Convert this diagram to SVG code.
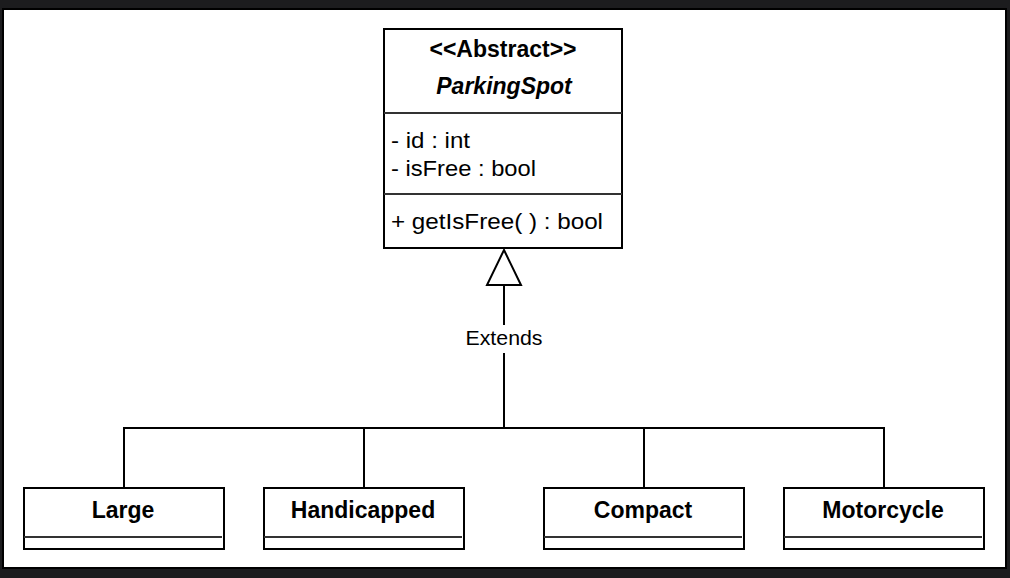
<svg xmlns="http://www.w3.org/2000/svg" width="1010" height="578" viewBox="0 0 1010 578">
<style>
.box{fill:#fff;stroke:#000;stroke-width:2}
.div{stroke:#333;stroke-width:2}
.ln{stroke:#000;stroke-width:2;fill:none}
text{font-family:"Liberation Sans",Arial,Helvetica,sans-serif;fill:#000}
.b{font-weight:bold;font-size:23px;text-anchor:middle}
.r{font-size:22px}
</style>
<rect x="0" y="0" width="1010" height="578" fill="#1c1c1e"/>
<rect x="3" y="9" width="1003" height="559" fill="#fff" stroke="#000" stroke-width="2"/>
<g id="connectors">
<polyline class="ln" points="124,488 124,428 884,428 884,488"/>
<line class="ln" x1="364" y1="428" x2="364" y2="488"/>
<line class="ln" x1="644" y1="428" x2="644" y2="488"/>
<line class="ln" x1="504" y1="428" x2="504" y2="353"/>
<line class="ln" x1="504" y1="325" x2="504" y2="285"/>
<polygon points="504,250 521,285 487,285" fill="#fff" stroke="#000" stroke-width="2"/>
<text x="504" y="345" font-size="20" text-anchor="middle" textLength="77" lengthAdjust="spacingAndGlyphs">Extends</text>
</g>
<g id="ParkingSpot">
<rect class="box" x="384" y="29" width="238" height="219"/>
<line class="div" x1="384" y1="113" x2="622" y2="113"/>
<line class="div" x1="384" y1="194" x2="622" y2="194"/>
<text class="b" x="503" y="57">&lt;&lt;Abstract&gt;&gt;</text>
<text class="b" x="504" y="94" font-style="italic">ParkingSpot</text>
<text class="r" x="391" y="148" textLength="79" lengthAdjust="spacingAndGlyphs">- id : int</text>
<text class="r" x="391" y="176" textLength="145" lengthAdjust="spacingAndGlyphs">- isFree : bool</text>
<text class="r" x="391" y="229" textLength="212" lengthAdjust="spacingAndGlyphs">+ getIsFree( ) : bool</text>
</g>
<g id="Large">
<rect class="box" x="24" y="488" width="200" height="61"/>
<line class="div" x1="24" y1="537" x2="222" y2="537"/>
<text class="b" x="123" y="518">Large</text>
</g>
<g id="Handicapped">
<rect class="box" x="264" y="488" width="200" height="61"/>
<line class="div" x1="264" y1="537" x2="462" y2="537"/>
<text class="b" x="363" y="518">Handicapped</text>
</g>
<g id="Compact">
<rect class="box" x="544" y="488" width="200" height="61"/>
<line class="div" x1="544" y1="537" x2="742" y2="537"/>
<text class="b" x="643" y="518">Compact</text>
</g>
<g id="Motorcycle">
<rect class="box" x="784" y="488" width="200" height="61"/>
<line class="div" x1="784" y1="537" x2="982" y2="537"/>
<text class="b" x="883" y="518">Motorcycle</text>
</g>
</svg>
